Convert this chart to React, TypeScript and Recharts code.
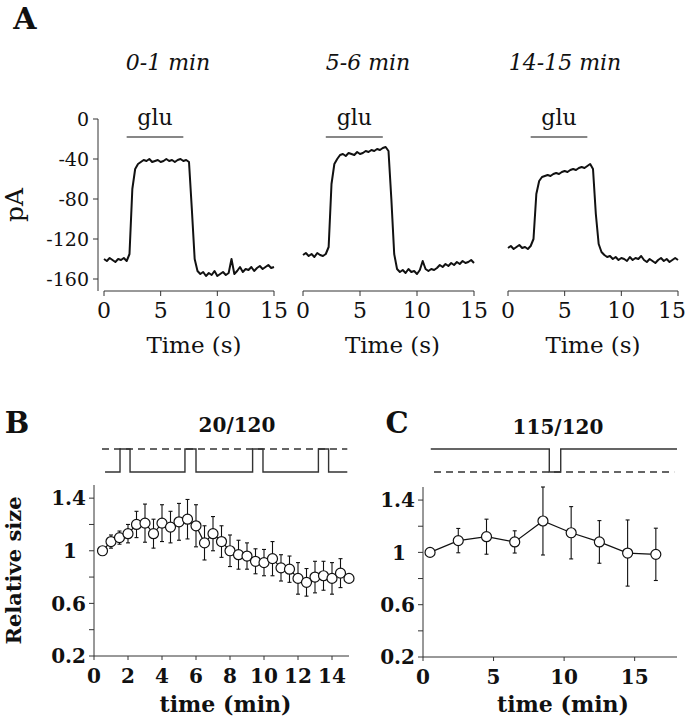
import React from 'react';
import { LineChart, Line, XAxis, YAxis, ReferenceLine, ErrorBar } from 'recharts';

const FONT = '"DejaVu Serif", serif';
const INK = '#111';
const AXIS = '#333';

// Panel A: glutamate-evoked currents (pA), one sample every 0.25 s
const TRACE_STEP_S = 0.25;
const TRACE_0_1 = [
  -140, -142, -139, -141, -143, -140, -141, -139, -142,
  -135, -70, -50, -45,
  -43, -41, -42, -40, -43, -42, -41, -43, -42, -40, -42, -41, -43, -41, -40, -42, -41,
  -43, -90, -140, -152,
  -155, -153, -157, -154, -156, -152, -157, -155, -153, -156, -154, -140, -155, -152,
  -148, -153, -150, -151, -148, -152, -149, -147, -150, -148, -146, -149, -148,
];
const TRACE_5_6 = [
  -136, -134, -137, -135, -138, -134, -136, -137, -135,
  -128, -65, -45, -40,
  -36, -35, -37, -34, -35, -36, -33, -35, -34, -32, -33, -31, -32, -30, -31, -29, -28,
  -32, -80, -135, -150,
  -153, -151, -154, -150, -153, -152, -155, -151, -142, -150, -152, -150, -151, -149,
  -146, -148, -145, -147, -144, -146, -143, -145, -142, -144, -143, -141, -144,
];
const TRACE_14_15 = [
  -129, -127, -130, -128, -126, -129, -128, -130, -127,
  -120, -75, -62, -58,
  -57, -56, -57, -55, -54, -55, -53, -52, -53, -51, -50, -51, -49, -48, -49, -47, -45,
  -50, -95, -125, -133,
  -136, -138, -137, -140, -138, -141, -139, -140, -142, -138, -141, -139, -140, -137,
  -141, -143, -140, -142, -144, -141, -139, -142, -140, -143, -141, -139, -141,
];
const TRACE_TITLES = ['0-1 min', '5-6 min', '14-15 min'];
const PA_TICKS = [0, -20, -40, -60, -80, -100, -120, -140, -160];
const PA_LABELED = [0, -40, -80, -120, -160];
const TIME_S_TICKS = [0, 5, 10, 15];
const GLU_ON_S = 2;
const GLU_OFF_S = 7;

// Panel B: 20/120 protocol
const B_TIME = [0.5, 1, 1.5, 2, 2.5, 3, 3.5, 4, 4.5, 5, 5.5, 6, 6.5, 7, 7.5, 8, 8.5, 9, 9.5, 10, 10.5, 11, 11.5, 12, 12.5, 13, 13.5, 14, 14.5, 15];
const B_SIZE = [1.0, 1.07, 1.1, 1.13, 1.2, 1.21, 1.13, 1.21, 1.18, 1.22, 1.24, 1.19, 1.06, 1.13, 1.07, 1.0, 0.97, 0.96, 0.92, 0.91, 0.94, 0.87, 0.86, 0.79, 0.76, 0.8, 0.81, 0.79, 0.83, 0.79];
const B_ERR = [0, 0.05, 0.05, 0.07, 0.1, 0.145, 0.11, 0.14, 0.12, 0.14, 0.15, 0.16, 0.13, 0.13, 0.12, 0.12, 0.11, 0.1, 0.095, 0.1, 0.13, 0.1, 0.1, 0.12, 0.105, 0.12, 0.11, 0.12, 0.11, 0];
const B_PROTO_TIME = [0.65, 1.53, 2.12, 5.35, 6.0, 9.33, 9.94, 13.2, 13.8, 14.9];
const B_PROTO_LEVEL = [0, 1, 0, 1, 0, 1, 0, 1, 0, 0];
const B_TIME_TICKS = [0, 2, 4, 6, 8, 10, 12, 14];

// Panel C: 115/120 protocol
const C_TIME = [0.5, 2.5, 4.5, 6.5, 8.5, 10.5, 12.5, 14.5, 16.5];
const C_SIZE = [1.0, 1.09, 1.12, 1.08, 1.24, 1.15, 1.08, 0.995, 0.985];
const C_ERR = [0, 0.093, 0.134, 0.085, 0.26, 0.2, 0.163, 0.253, 0.2];
const C_PROTO_TIME = [0.55, 8.95, 9.76, 18];
const C_PROTO_LEVEL = [1, 0, 1, 1];
const C_TIME_TICKS = [0, 5, 10, 15];

const SIZE_TICKS = [0.2, 0.4, 0.6, 0.8, 1, 1.2, 1.4];
const SIZE_LABELS: Record<string, string> = { '0.2': '0.2', '0.6': '0.6', '1': '1', '1.4': '1.4' };

const Txt = ({ x, y, size, bold, italic, children }: any) => (
  <div
    style={{
      position: 'absolute', left: x, top: y, transform: 'translate(-50%, -50%)',
      fontFamily: FONT, fontSize: size, fontWeight: bold ? 'bold' : 'normal',
      fontStyle: italic ? 'italic' : 'normal', lineHeight: 1, whiteSpace: 'nowrap', color: INK,
    }}
  >
    {children}
  </div>
);

const PaTick = (props: any) => {
  const { x, y, payload } = props;
  if (!PA_LABELED.includes(payload.value)) return <g />;
  return (
    <text x={x} y={y} dy="0.36em" textAnchor="end" fontFamily={FONT} fontSize={19} fill={INK}>
      {payload.value}
    </text>
  );
};

// x tick for the traces; the last panel pulls its "15" in so it stays on the page
const SecTick = (props: any) => {
  const { x, y, payload, lastShift } = props;
  const dx = payload.value === 15 ? lastShift || 0 : 0;
  return (
    <text x={x + dx} y={y} dy="0.71em" textAnchor="middle" fontFamily={FONT} fontSize={22} fill={INK}>
      {payload.value}
    </text>
  );
};

const SizeTick = (props: any) => {
  const { x, y, payload } = props;
  const label = SIZE_LABELS[String(payload.value)];
  if (!label) return <g />;
  return (
    <text x={x} y={y} dx={label === '1' ? -9 : 0} dy="0.36em" textAnchor="end" fontFamily={FONT} fontSize={20} fontWeight="bold" fill={INK}>
      {label}
    </text>
  );
};

const Trace = ({ values, left, width, marginLeft, marginRight, withYAxis, labelDx, lastShift }: any) => {
  const data = values.map((v: number, i: number) => ({ t: i * TRACE_STEP_S, v }));
  return (
    <div style={{ position: 'absolute', left, top: 0 }}>
      <LineChart width={width} height={360} data={data} margin={{ top: 119, right: marginRight, bottom: 0, left: marginLeft }}>
        <XAxis
          type="number" dataKey="t" domain={[0, 15]} ticks={TIME_S_TICKS}
          padding={{ left: withYAxis ? 6 : 0, right: 0 }}
          axisLine={withYAxis ? false : { stroke: AXIS }} tickLine={{ stroke: AXIS }}
          tickSize={5} tickMargin={6} height={69}
          tick={<SecTick lastShift={lastShift} />}
          label={{ value: 'Time (s)', position: 'insideBottom', offset: 7, dx: labelDx, fontSize: 23, fontFamily: FONT, fill: INK }}
        />
        <YAxis
          hide={!withYAxis} type="number" domain={[-172, 0]} ticks={PA_TICKS} width={98}
          axisLine={{ stroke: AXIS }} tickLine={{ stroke: AXIS }} tickSize={5} tickMargin={4}
          tick={<PaTick />}
          label={{ value: 'pA', angle: -90, position: 'insideLeft', offset: 14, style: { textAnchor: 'middle' }, fontSize: 25, fontFamily: FONT, fill: INK }}
        />
        {withYAxis && <ReferenceLine segment={[{ x: 0, y: -172 }, { x: 15, y: -172 }]} stroke={AXIS} />}
        <ReferenceLine
          segment={[{ x: GLU_ON_S, y: -18 }, { x: GLU_OFF_S, y: -18 }]} stroke={INK} strokeWidth={1.2}
          label={{ value: 'glu', position: 'top', offset: 12, fontSize: 22, fontFamily: FONT, fill: INK }}
        />
        <Line type="linear" dataKey="v" stroke={INK} strokeWidth={2} strokeLinejoin="round" dot={false} isAnimationActive={false} />
      </LineChart>
    </div>
  );
};

const Protocol = ({ times, levels, left, width, marginLeft, marginRight, xMax, dash }: any) => {
  const data = times.map((t: number, i: number) => ({ t, level: levels[i] }));
  return (
    <div style={{ position: 'absolute', left, top: 440 }}>
      <LineChart width={width} height={42} data={data} margin={{ top: 9, right: marginRight, bottom: 10, left: marginLeft }}>
        <XAxis hide type="number" dataKey="t" domain={[0, xMax]} />
        <YAxis hide type="number" domain={[0, 1]} />
        <ReferenceLine segment={dash} stroke="#333" strokeWidth={1.3} strokeDasharray="7 5" />
        <Line type="stepAfter" dataKey="level" stroke="#333" strokeWidth={1.4} dot={false} isAnimationActive={false} />
      </LineChart>
    </div>
  );
};

const SizePlot = ({ times, sizes, errs, left, width, yAxisWidth, marginTop, marginRight, xMax, xTicks, xAxisHeight, withLabel, labelDx }: any) => {
  const data = times.map((t: number, i: number) => ({ t, v: sizes[i], e: errs[i] }));
  return (
    <div style={{ position: 'absolute', left, top: 360 }}>
      <LineChart width={width} height={360} data={data} margin={{ top: marginTop, right: marginRight, bottom: 0, left: 0 }}>
        <XAxis
          type="number" dataKey="t" domain={[0, xMax]} ticks={xTicks}
          axisLine={{ stroke: AXIS }} tickLine={{ stroke: AXIS }} tickSize={4} tickMargin={9} height={xAxisHeight}
          tick={{ fontSize: 20, fontFamily: FONT, fontWeight: 'bold', fill: INK }}
          label={{ value: 'time (min)', position: 'insideBottom', offset: 8, dx: labelDx, fontSize: 22, fontFamily: FONT, fontWeight: 'bold', fill: INK }}
        />
        <YAxis
          type="number" domain={[0.2, 1.5]} ticks={SIZE_TICKS} width={yAxisWidth}
          axisLine={{ stroke: AXIS }} tickLine={{ stroke: AXIS }} tickSize={5} tickMargin={3}
          tick={<SizeTick />}
          label={withLabel ? { value: 'Relative size', angle: -90, position: 'insideLeft', offset: 14, style: { textAnchor: 'middle' }, fontSize: 21, fontFamily: FONT, fontWeight: 'bold', fill: INK } : undefined}
        />
        <Line
          type="linear" dataKey="v" stroke={INK} strokeWidth={1.2} isAnimationActive={false}
          dot={{ r: 5, fill: '#fff', stroke: INK, strokeWidth: 1.2 }}
        >
          <ErrorBar dataKey="e" direction="y" width={2} stroke={INK} strokeWidth={1.1} />
        </Line>
      </LineChart>
    </div>
  );
};

export default function App() {
  return (
    <div style={{ position: 'absolute', left: 0, top: 0, width: 687, height: 720, background: '#fff', overflow: 'hidden' }}>
      <Txt x={25} y={19} size={30} bold>A</Txt>
      <Txt x={168} y={63} size={22} italic>{TRACE_TITLES[0]}</Txt>
      <Txt x={368} y={63} size={22} italic>{TRACE_TITLES[1]}</Txt>
      <Txt x={565} y={63} size={22} italic>{TRACE_TITLES[2]}</Txt>

      <Trace values={TRACE_0_1} left={0} width={290} marginLeft={0} marginRight={16} withYAxis labelDx={8} lastShift={0} />
      <Trace values={TRACE_5_6} left={290} width={200} marginLeft={13} marginRight={16} withYAxis={false} labelDx={4} lastShift={0} />
      <Trace values={TRACE_14_15} left={490} width={197} marginLeft={18} marginRight={9} withYAxis={false} labelDx={0} lastShift={-6} />

      <Txt x={17} y={423} size={29} bold>B</Txt>
      <Txt x={237} y={425} size={20} bold>20/120</Txt>
      <Protocol
        times={B_PROTO_TIME} levels={B_PROTO_LEVEL} left={0} width={360} marginLeft={94} marginRight={11} xMax={15}
        dash={[{ x: 0.47, y: 1 }, { x: 14.9, y: 1 }]}
      />
      <SizePlot
        times={B_TIME} sizes={B_SIZE} errs={B_ERR} left={0} width={360} yAxisWidth={94} marginTop={125} marginRight={11}
        xMax={15} xTicks={B_TIME_TICKS} xAxisHeight={64} withLabel labelDx={4}
      />

      <Txt x={397} y={423} size={29} bold>C</Txt>
      <Txt x={558} y={427} size={20} bold>115/120</Txt>
      <Protocol
        times={C_PROTO_TIME} levels={C_PROTO_LEVEL} left={340} width={347} marginLeft={83} marginRight={10} xMax={18}
        dash={[{ x: 0.78, y: 0 }, { x: 17.8, y: 0 }]}
      />
      <SizePlot
        times={C_TIME} sizes={C_SIZE} errs={C_ERR} left={340} width={347} yAxisWidth={83} marginTop={127} marginRight={10}
        xMax={18} xTicks={C_TIME_TICKS} xAxisHeight={63} withLabel={false} labelDx={13}
      />
    </div>
  );
}
